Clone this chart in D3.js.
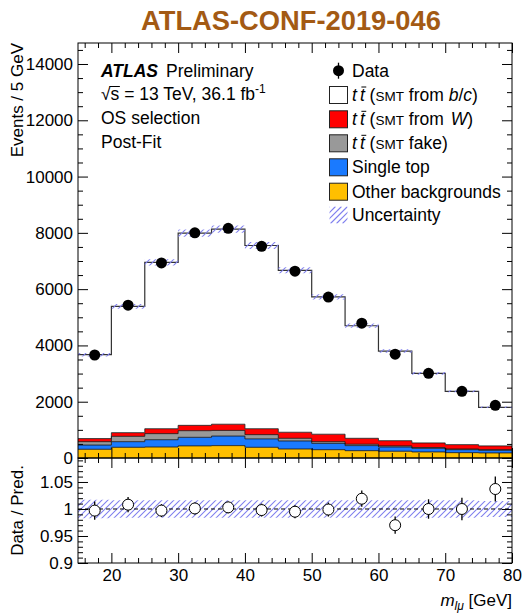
<!DOCTYPE html>
<html>
<head>
<meta charset="utf-8">
<script src="https://cdn.jsdelivr.net/npm/d3@7"></script>
<style>
  body { margin: 0; background: #fff; }
  text { font-family: "Liberation Sans", Arial, sans-serif; }
</style>
</head>
<body>
<svg id="chart" width="525" height="613"></svg>
<script>
// bins of m_lmu, 5 GeV wide
var binLow = [15, 20, 25, 30, 35, 40, 45, 50, 55, 60, 65, 70, 75];
var binWidth = 5;

var data      = [3660, 5430, 6930, 8000, 8160, 7520, 6640, 5720, 4790, 3690, 3010, 2370, 1870];
var ttBC      = [2980, 4490, 5910, 6830, 6930, 6510, 5755, 4880, 4000, 3185, 2475, 1895, 1370];
var ttW       = [110, 130, 175, 190, 220, 210, 215, 265, 210, 185, 165, 155, 135];
var ttFake    = [120, 190, 215, 235, 200, 150, 95, 60, 50, 40, 25, 25, 20];
var singleTop = [150, 200, 260, 305, 340, 300, 285, 225, 180, 150, 130, 105, 95];
var otherBkg  = [310, 380, 390, 430, 440, 380, 320, 295, 260, 240, 215, 190, 180];

var ratio    = [0.997, 1.008, 0.997, 1.001, 1.003, 0.998, 0.995, 0.999, 1.019, 0.970, 1.000, 1.000, 1.037];
var ratioErr = [0.017, 0.014, 0.012, 0.011, 0.011, 0.012, 0.012, 0.013, 0.015, 0.016, 0.018, 0.021, 0.023];
var uncert   = [0.017, 0.016, 0.016, 0.016, 0.016, 0.016, 0.016, 0.016, 0.016, 0.016, 0.016, 0.016, 0.015];

var xMajor = [20, 30, 40, 50, 60, 70, 80];
var xMinor = [16, 18, 22, 24, 26, 28, 32, 34, 36, 38, 42, 44, 46, 48, 52, 54, 56, 58, 62, 64, 66, 68, 72, 74, 76, 78];
var yMajor = [0, 2000, 4000, 6000, 8000, 10000, 12000, 14000];
var yMinor = [500, 1000, 1500, 2500, 3000, 3500, 4500, 5000, 5500, 6500, 7000, 7500, 8500, 9000, 9500,
              10500, 11000, 11500, 12500, 13000, 13500, 14500];
var rMajor = [0.9, 0.95, 1, 1.05];
var rMinor = [0.91, 0.92, 0.93, 0.94, 0.96, 0.97, 0.98, 0.99, 1.01, 1.02, 1.03, 1.04, 1.06, 1.07, 1.08, 1.09];

var layerKeys = ['other', 'single', 'fake', 'w', 'bc'];
var layerColors = { other: '#ffbf00', single: '#1a7aff', fake: '#999999', w: '#ff0000', bc: '#ffffff' };
var hatchColor = '#7f7fee';

var svg = d3.select('#chart');
var L = 78, R = 512, T = 43, MB = 458, RB = 563;

var x = d3.scaleLinear().domain([15, 80]).range([L, R]);
var y = d3.scaleLinear().domain([0, 14746]).range([MB, T]);
var yr = d3.scaleLinear().domain([0.9, 1.0944]).range([RB, MB]);

var defs = svg.append('defs');

// hatched region: diagonal lines clipped to a set of rectangles
function hatch(id, rects, x0, x1, y0, y1) {
  var cp = defs.append('clipPath').attr('id', id);
  cp.selectAll('rect').data(rects).enter().append('rect')
      .attr('x', function(r) { return r.x; })
      .attr('y', function(r) { return r.y; })
      .attr('width', function(r) { return r.w; })
      .attr('height', function(r) { return r.h; });
  var offs = d3.range(x0 - (y1 - y0), x1, 6);
  svg.append('g').attr('clip-path', 'url(#' + id + ')')
    .selectAll('line').data(offs).enter().append('line')
      .attr('x1', function(o) { return o; })
      .attr('y1', y1)
      .attr('x2', function(o) { return o + (y1 - y0); })
      .attr('y2', y0)
      .attr('stroke', hatchColor)
      .attr('stroke-width', 1.1);
}

// title
svg.append('text')
    .attr('x', 291).attr('y', 30)
    .attr('text-anchor', 'middle')
    .attr('font-size', 27.3)
    .attr('font-weight', 'bold')
    .attr('fill', '#a35a14')
    .text('ATLAS-CONF-2019-046');

// stacked histogram
var rows = binLow.map(function(b, i) {
  return { other: otherBkg[i], single: singleTop[i], fake: ttFake[i], w: ttW[i], bc: ttBC[i] };
});
var stacked = d3.stack().keys(layerKeys)(rows);

function stepPoints(series) {
  var pts = [];
  series.forEach(function(d, i) {
    pts.push({ x: binLow[i], y0: d[0], y1: d[1] });
    pts.push({ x: binLow[i] + binWidth, y0: d[0], y1: d[1] });
  });
  return pts;
}

var area = d3.area()
    .x(function(d) { return x(d.x); })
    .y0(function(d) { return y(d.y0); })
    .y1(function(d) { return y(d.y1); });

var topLine = d3.line()
    .x(function(d) { return x(d.x); })
    .y(function(d) { return y(d.y1); });

var main = svg.append('g');
main.selectAll('path.layer')
    .data(stacked)
    .enter().append('path')
    .attr('class', 'layer')
    .attr('d', function(s) { return area(stepPoints(s)); })
    .attr('fill', function(s) { return layerColors[s.key]; });

main.selectAll('path.edge')
    .data(stacked)
    .enter().append('path')
    .attr('class', 'edge')
    .attr('d', function(s) { return topLine(stepPoints(s)); })
    .attr('fill', 'none')
    .attr('stroke', function(s) { return s.key === 'bc' ? '#333' : '#111'; })
    .attr('stroke-width', function(s) { return s.key === 'bc' ? 1.2 : 0.8; });

// uncertainty band on the total
var totals = stacked[stacked.length - 1].map(function(d) { return d[1]; });
hatch('uncMain', binLow.map(function(b, i) {
  var top = y(totals[i] * (1 + uncert[i])), bot = y(totals[i] * (1 - uncert[i]));
  return { x: x(b), y: top, w: x(b + binWidth) - x(b), h: bot - top };
}), L, R, T, MB);

// data points
svg.selectAll('circle.data')
    .data(data)
    .enter().append('circle')
    .attr('class', 'data')
    .attr('cx', function(d, i) { return x(binLow[i] + binWidth / 2); })
    .attr('cy', function(d) { return y(d); })
    .attr('r', 5.5)
    .attr('fill', '#000');

// ratio panel
hatch('uncRatio', binLow.map(function(b, i) {
  var top = yr(1 + uncert[i]), bot = yr(1 - uncert[i]);
  return { x: x(b), y: top, w: x(b + binWidth) - x(b), h: bot - top };
}), L, R, MB, RB);

var rp = svg.append('g');
rp.append('line')
    .attr('x1', L).attr('x2', R)
    .attr('y1', yr(1)).attr('y2', yr(1))
    .attr('stroke', '#000')
    .attr('stroke-width', 1)
    .attr('stroke-dasharray', '4,3');

rp.selectAll('line.err')
    .data(ratio)
    .enter().append('line')
    .attr('class', 'err')
    .attr('x1', function(d, i) { return x(binLow[i] + binWidth / 2); })
    .attr('x2', function(d, i) { return x(binLow[i] + binWidth / 2); })
    .attr('y1', function(d, i) { return yr(d + ratioErr[i]); })
    .attr('y2', function(d, i) { return yr(d - ratioErr[i]); })
    .attr('stroke', '#000')
    .attr('stroke-width', 1.3);

rp.selectAll('circle.ratio')
    .data(ratio)
    .enter().append('circle')
    .attr('class', 'ratio')
    .attr('cx', function(d, i) { return x(binLow[i] + binWidth / 2); })
    .attr('cy', function(d) { return yr(d); })
    .attr('r', 5.5)
    .attr('fill', '#fff')
    .attr('stroke', '#000')
    .attr('stroke-width', 1);

// axes, ROOT style: ticks pointing inwards on all sides
function addAxis(axisFn, scale, major, minor, tx, ty, labels, fmt) {
  var g = svg.append('g').attr('transform', 'translate(' + tx + ',' + ty + ')');
  g.call(axisFn(scale).tickValues(minor).tickSize(-5).tickFormat(''));
  var gm = svg.append('g').attr('transform', 'translate(' + tx + ',' + ty + ')');
  gm.call(axisFn(scale).tickValues(major).tickSize(-10).tickPadding(5)
      .tickFormat(labels ? fmt : ''));
  [g, gm].forEach(function(a) {
    a.select('.domain').remove();
    a.selectAll('line').attr('stroke', '#000').attr('stroke-width', 1);
    a.selectAll('text').attr('font-size', 17).attr('fill', '#000')
      .attr('font-family', '"Liberation Sans", Arial, sans-serif');
  });
  return gm;
}

var fmtInt = d3.format('d');
var fmtRatio = function(d) { return d === 1 ? '1' : d === 0.9 ? '0.9' : String(d); };

addAxis(d3.axisLeft, y, yMajor, yMinor, L, 0, true, fmtInt);
addAxis(d3.axisRight, y, yMajor, yMinor, R, 0, false);
addAxis(d3.axisTop, x, xMajor, xMinor, 0, T, false);
addAxis(d3.axisBottom, x, xMajor, xMinor, 0, MB, false);

addAxis(d3.axisLeft, yr, rMajor, rMinor, L, 0, true, fmtRatio);
addAxis(d3.axisRight, yr, rMajor, rMinor, R, 0, false);
addAxis(d3.axisTop, x, xMajor, xMinor, 0, MB, false);
var xb = addAxis(d3.axisBottom, x, xMajor, xMinor, 0, RB, true, fmtInt);
xb.selectAll('text').attr('dy', '0.75em');

// frames
svg.append('rect').attr('x', L).attr('y', T).attr('width', R - L).attr('height', MB - T)
    .attr('fill', 'none').attr('stroke', '#000').attr('stroke-width', 1);
svg.append('rect').attr('x', L).attr('y', MB).attr('width', R - L).attr('height', RB - MB)
    .attr('fill', 'none').attr('stroke', '#000').attr('stroke-width', 1);

// axis titles
svg.append('text')
    .attr('transform', 'translate(23,' + T + ') rotate(-90)')
    .attr('text-anchor', 'end')
    .attr('font-size', 17)
    .text('Events / 5 GeV');
svg.append('text')
    .attr('transform', 'translate(23,' + ((MB + RB) / 2) + ') rotate(-90)')
    .attr('text-anchor', 'middle')
    .attr('font-size', 17)
    .text('Data / Pred.');

var xt = svg.append('text')
    .attr('x', R).attr('y', 606)
    .attr('text-anchor', 'end')
    .attr('font-size', 17);
xt.append('tspan').attr('font-style', 'italic').text('m');
xt.append('tspan').attr('font-style', 'italic').attr('font-size', 12).attr('dy', 4).text('lμ');
xt.append('tspan').attr('dy', -4).text(' [GeV]');

// ATLAS label block
var lab = svg.append('g').attr('font-size', 17.5);
var a1 = lab.append('text').attr('x', 101).attr('y', 77);
a1.append('tspan').attr('font-weight', 'bold').attr('font-style', 'italic').text('ATLAS');
a1.append('tspan').attr('dx', 8).text('Preliminary');

var a2 = lab.append('text').attr('x', 101).attr('y', 100);
a2.append('tspan').text('√s');
a2.append('tspan').text(' = 13 TeV, 36.1 fb');
a2.append('tspan').attr('font-size', 12).attr('dy', -7).text('-1');
var sx0 = a2.node().getStartPositionOfChar(1).x;
var sx1 = a2.node().getEndPositionOfChar(1).x;
lab.append('line').attr('x1', sx0 - 1).attr('x2', sx1 + 0.5).attr('y1', 86.5).attr('y2', 86.5)
    .attr('stroke', '#000').attr('stroke-width', 1);

lab.append('text').attr('x', 101).attr('y', 124).text('OS selection');
lab.append('text').attr('x', 101).attr('y', 148).text('Post-Fit');

// legend
var rowsY = [70.7, 95, 119.3, 143.3, 167.3, 191.7, 215];
var leg = svg.append('g').attr('font-size', 17.5);
var boxX = 329.5, textX = 352;

leg.append('line').attr('x1', boxX + 9).attr('x2', boxX + 9)
    .attr('y1', rowsY[0] - 8).attr('y2', rowsY[0] + 8)
    .attr('stroke', '#000').attr('stroke-width', 1.3);
leg.append('circle').attr('cx', boxX + 9).attr('cy', rowsY[0]).attr('r', 5.5).attr('fill', '#000');
leg.append('text').attr('x', textX).attr('y', rowsY[0] + 6).text('Data');

var legKeys = ['bc', 'w', 'fake', 'single', 'other'];
legKeys.forEach(function(k, i) {
  var yy = rowsY[i + 1];
  leg.append('rect').attr('x', boxX).attr('y', yy - 8.5).attr('width', 18).attr('height', 17)
      .attr('fill', layerColors[k]).attr('stroke', '#222').attr('stroke-width', 1);
});

function ttLabel(yy, rest) {
  var t = leg.append('text').attr('x', textX).attr('y', yy + 6);
  t.append('tspan').attr('font-style', 'italic').text('t');
  t.append('tspan').attr('font-style', 'italic').attr('dx', 3).text('t');
  t.append('tspan').text(' (');
  t.append('tspan').attr('font-size', 13.5).text('SMT');
  rest(t);
  var n = t.node();
  var b0 = n.getStartPositionOfChar(1).x, b1 = n.getEndPositionOfChar(1).x;
  leg.append('line').attr('x1', b0 + 1.5).attr('x2', b1 + 1.5)
      .attr('y1', yy - 8).attr('y2', yy - 8).attr('stroke', '#000').attr('stroke-width', 1);
}
ttLabel(rowsY[1], function(t) {
  t.append('tspan').text(' from ');
  t.append('tspan').attr('font-style', 'italic').text('b');
  t.append('tspan').text('/');
  t.append('tspan').attr('font-style', 'italic').text('c');
  t.append('tspan').text(')');
});
ttLabel(rowsY[2], function(t) {
  t.append('tspan').text(' from ');
  t.append('tspan').attr('font-style', 'italic').attr('dx', 2).text('W');
  t.append('tspan').text(')');
});
ttLabel(rowsY[3], function(t) {
  t.append('tspan').text(' fake)');
});
leg.append('text').attr('x', textX).attr('y', rowsY[4] + 6).text('Single top');
leg.append('text').attr('x', textX).attr('y', rowsY[5] + 6).text('Other backgrounds');

hatch('uncLeg', [{ x: boxX, y: rowsY[6] - 8.5, w: 18, h: 17 }], boxX, boxX + 18, rowsY[6] - 8.5, rowsY[6] + 8.5);
leg.append('text').attr('x', textX).attr('y', rowsY[6] + 6).text('Uncertainty');
</script>
</body>
</html>
